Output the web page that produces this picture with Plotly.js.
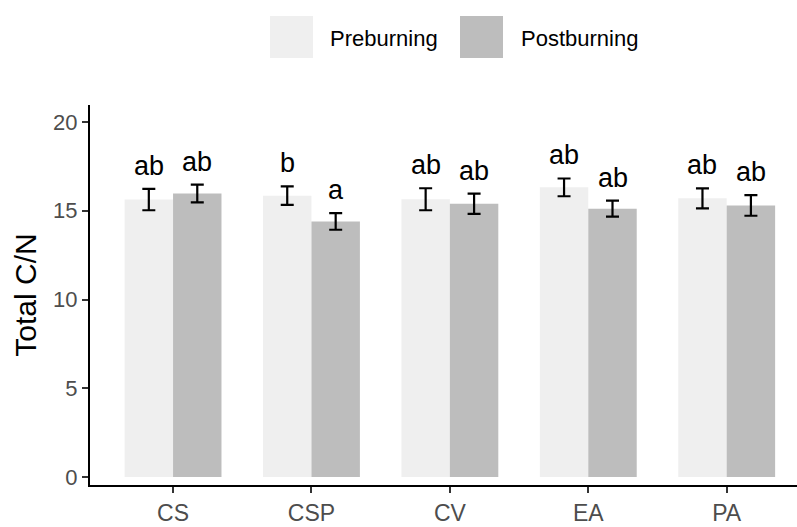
<!DOCTYPE html>
<html>
<head>
<meta charset="utf-8">
<script src="https://cdn.plot.ly/plotly-3.0.1.min.js"></script>
<style>html,body{margin:0;padding:0;background:#fff;overflow:hidden}#chart{width:797px;height:527px}</style>
</head>
<body>
<div id="chart"></div>
<script>
var categories = ['CS', 'CSP', 'CV', 'EA', 'PA'];
var seriesNames = ['Preburning', 'Postburning'];
var preValues = [15.63, 15.85, 15.65, 16.32, 15.70];
var postValues = [15.97, 14.40, 15.40, 15.12, 15.30];
var preErrors = [0.60, 0.52, 0.62, 0.50, 0.56];
var postErrors = [0.50, 0.47, 0.57, 0.45, 0.58];
var preLetters = ['ab', 'b', 'ab', 'ab', 'ab'];
var postLetters = ['ab', 'a', 'ab', 'ab', 'ab'];
var yTicks = [0, 5, 10, 15, 20];

var FONT = 'Liberation Sans, Arial, sans-serif';
var preColor = '#EFEFEF';
var postColor = '#BDBDBD';

var traces = [
  {
    type: 'bar', name: seriesNames[0], x: categories, y: preValues,
    marker: {color: preColor},
    error_y: {type: 'data', array: preErrors, visible: true, color: '#000', thickness: 2.2, width: 6.5}
  },
  {
    type: 'bar', name: seriesNames[1], x: categories, y: postValues,
    marker: {color: postColor},
    error_y: {type: 'data', array: postErrors, visible: true, color: '#000', thickness: 2.2, width: 6.5}
  }
];

var annotations = [];
var half = 0.7 / 4; // offset of each bar centre within a group
categories.forEach(function (c, i) {
  annotations.push({
    xref: 'x', yref: 'y', x: i - half, y: preValues[i] + preErrors[i],
    text: preLetters[i], showarrow: false, yanchor: 'bottom', yshift: 6,
    font: {family: FONT, size: 27, color: '#000'}
  });
  annotations.push({
    xref: 'x', yref: 'y', x: i + half, y: postValues[i] + postErrors[i],
    text: postLetters[i], showarrow: false, yanchor: 'bottom', yshift: 6,
    font: {family: FONT, size: 27, color: '#000'}
  });
});

// Manual legend (large keys as in the reference); paper coords relative to plot area
var W = 797, H = 527;
var ML = 90, MR = 0, MT = 105, MB = 42;
var PW = W - ML - MR, PH = H - MT - MB;
function px(x) { return (x - ML) / PW; }
function py(y) { return (H - MB - y) / PH; }
var shapes = [
  {type: 'rect', xref: 'paper', yref: 'paper', x0: px(270), x1: px(313), y0: py(58), y1: py(16),
   fillcolor: preColor, line: {width: 0}},
  {type: 'rect', xref: 'paper', yref: 'paper', x0: px(460), x1: px(503), y0: py(58), y1: py(16),
   fillcolor: postColor, line: {width: 0}}
];
annotations.push({xref: 'paper', yref: 'paper', x: px(328), y: py(38), xanchor: 'left', yanchor: 'middle',
  text: seriesNames[0], showarrow: false, font: {family: FONT, size: 22, color: '#000'}});
annotations.push({xref: 'paper', yref: 'paper', x: px(519), y: py(38), xanchor: 'left', yanchor: 'middle',
  text: seriesNames[1], showarrow: false, font: {family: FONT, size: 22, color: '#000'}});

var layout = {
  width: W, height: H,
  margin: {l: ML, r: MR, t: MT, b: MB, pad: 0},
  paper_bgcolor: '#fff', plot_bgcolor: '#fff',
  showlegend: false,
  barmode: 'group', bargap: 0.3, bargroupgap: 0,
  font: {family: FONT},
  xaxis: {
    type: 'category', range: [-0.6, 4.508],
    showline: true, linecolor: '#000', linewidth: 2, mirror: false,
    showgrid: false, zeroline: false,
    ticks: 'outside', ticklen: 6, tickwidth: 2, tickcolor: '#333',
    tickfont: {family: FONT, size: 23, color: '#4D4D4D'}
  },
  yaxis: {
    range: [-0.45, 20.96], tickvals: yTicks,
    showline: true, linecolor: '#000', linewidth: 2,
    showgrid: false, zeroline: false,
    ticks: 'outside', ticklen: 6, tickwidth: 2, tickcolor: '#333',
    tickfont: {family: FONT, size: 22, color: '#4D4D4D'},
    title: {text: 'Total C/N', font: {family: FONT, size: 30, color: '#000'}, standoff: 8}
  },
  shapes: shapes,
  annotations: annotations
};

Plotly.newPlot('chart', traces, layout, {displayModeBar: false, staticPlot: true});
</script>
</body>
</html>
